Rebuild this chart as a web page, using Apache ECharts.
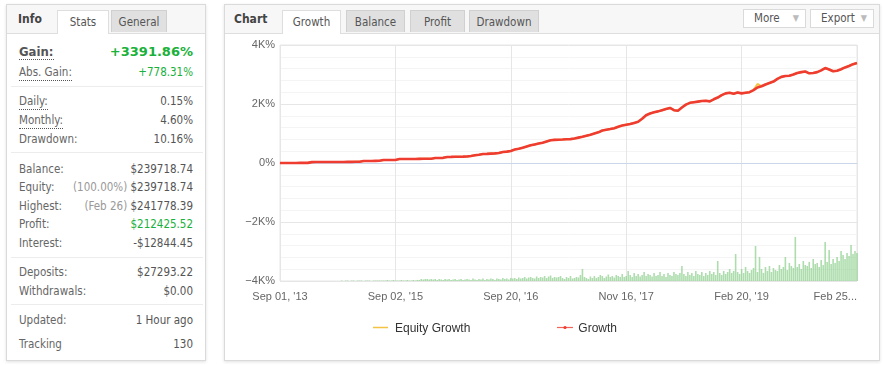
<!DOCTYPE html>
<html><head><meta charset="utf-8">
<script src="https://cdn.jsdelivr.net/npm/echarts@6/dist/echarts.min.js"></script>
<style>
html,body{margin:0;padding:0;background:#fff;width:885px;height:365px;overflow:hidden;font-family:"DejaVu Sans Condensed","Liberation Sans",sans-serif;}
.panel{position:absolute;background:#fff;border:1px solid #dadada;box-shadow:0 1px 3px rgba(0,0,0,0.12);box-sizing:border-box;}
.hdr{position:absolute;left:0;right:0;top:0;height:28px;background:#f7f7f7;border-bottom:1px solid #dedede;}
.ttl{position:absolute;top:7px;font:bold 12px "DejaVu Sans Condensed","DejaVu Sans",sans-serif;color:#444;}
.tab{position:absolute;top:5px;height:22px;box-sizing:border-box;border:1px solid #d0d0d0;border-bottom:none;background:#e0e0e0;color:#555;font-size:11.5px;line-height:22px;text-align:center;}
.tab.on{background:#fff;height:24px;border-color:#dedede;}
.btn{position:absolute;top:4px;height:19px;box-sizing:border-box;border:1px solid #dadada;background:#fff;color:#555;font-size:11.5px;line-height:17px;padding-left:10px;}
.btn span{position:absolute;right:6px;top:0;color:#bbb;font-size:9px;}
.row{position:absolute;left:12px;right:12px;height:16px;font-size:11.5px;line-height:16px;color:#666;}
.row .l{position:absolute;left:0;}
.row .v{position:absolute;right:0;color:#555;}
.row .u{border-bottom:1px dotted #555;}
.gr{color:#19b13a!important;}
.mut{color:#999;}
.sep{position:absolute;left:4px;right:2px;height:1px;background:#ececec;}
#chart{position:absolute;left:0;top:0;width:885px;height:365px;z-index:2;}
</style></head><body>
<div class="panel" style="left:6px;top:4px;width:200px;height:357px;">
  <div class="hdr"></div>
  <div class="ttl" style="left:11px;">Info</div>
  <div class="tab on" style="left:50px;width:52px;">Stats</div>
  <div class="tab" style="left:104px;width:56px;">General</div>
  <div class="row" style="top:39px;"><span class="l u" style="font:bold 13px 'DejaVu Sans Condensed','DejaVu Sans';color:#555;">Gain:</span><span class="v gr" style="font:bold 13px 'DejaVu Sans';">+3391.86%</span></div>
  <div class="row" style="top:59px;"><span class="l u">Abs. Gain:</span><span class="v gr">+778.31%</span></div>
  <div class="sep" style="top:81px;"></div>
  <div class="row" style="top:88px;"><span class="l u">Daily:</span><span class="v">0.15%</span></div>
  <div class="row" style="top:107px;"><span class="l u">Monthly:</span><span class="v">4.60%</span></div>
  <div class="row" style="top:126px;"><span class="l">Drawdown:</span><span class="v">10.16%</span></div>
  <div class="sep" style="top:147px;"></div>
  <div class="row" style="top:156px;"><span class="l">Balance:</span><span class="v">$239718.74</span></div>
  <div class="row" style="top:174px;"><span class="l">Equity:</span><span class="v"><span class="mut">(100.00%)</span> $239718.74</span></div>
  <div class="row" style="top:193px;"><span class="l">Highest:</span><span class="v"><span class="mut">(Feb 26)</span> $241778.39</span></div>
  <div class="row" style="top:211px;"><span class="l">Profit:</span><span class="v gr">$212425.52</span></div>
  <div class="row" style="top:230px;"><span class="l">Interest:</span><span class="v">-$12844.45</span></div>
  <div class="sep" style="top:252px;"></div>
  <div class="row" style="top:259px;"><span class="l">Deposits:</span><span class="v">$27293.22</span></div>
  <div class="row" style="top:278px;"><span class="l">Withdrawals:</span><span class="v">$0.00</span></div>
  <div class="sep" style="top:299px;"></div>
  <div class="row" style="top:307px;"><span class="l">Updated:</span><span class="v">1 Hour ago</span></div>
  <div class="row" style="top:331px;"><span class="l">Tracking</span><span class="v">130</span></div>
</div>
<div class="panel" style="left:224px;top:4px;width:656px;height:357px;">
  <div class="hdr"></div>
  <div class="ttl" style="left:9px;">Chart</div>
  <div class="tab on" style="left:57px;width:59px;">Growth</div>
  <div class="tab" style="left:121px;width:59px;">Balance</div>
  <div class="tab" style="left:185px;width:55px;">Profit</div>
  <div class="tab" style="left:244px;width:70px;">Drawdown</div>
  <div class="btn" style="left:518px;width:63px;">More<span>▼</span></div>
  <div class="btn" style="left:585px;width:64px;">Export<span>▼</span></div>
</div>
<div id="chart"></div>
<script>
// x tick labels (every 58 steps of the point index)
const xTicks = ["Sep 01, '13", "Sep 02, '15", "Sep 20, '16", "Nov 16, '17", "Feb 20, '19", "Feb 25..."];
const yTicks = {"4000":"4K%","2000":"2K%","0":"0%","-2000":"\u22122K%","-4000":"\u22124K%"};
// Growth % (one value every 2 index steps)
const growth = [
0,0,2,0,2,3,3,5,30,32, 32,33,33,34,35,35,36,37,38,40, 42,68,70,70,72,74,100,102,103,104,
135,136,137,137,138,140,142,143,145,170, 172,175,203,206,210,212,215,220,240,262,
280,305,310,318,325,340,373,385,410,455, 480,520,560,600,630,660,690,730,770,785,
790,795,805,810,830,860,890,925,960,1000, 1040,1100,1125,1150,1180,1230,1270,1295,1320,1360,
1400,1500,1620,1680,1720,1750,1790,1830,1865,1790, 1770,1880,1980,2040,2060,2080,2100,2110,2090,2160,
2220,2300,2360,2380,2350,2390,2360,2380,2400,2470, 2560,2600,2660,2710,2760,2850,2920,2950,2960,3000,
3050,3080,3100,3040,3050,3080,3140,3220,3170,3110, 3130,3180,3240,3290,3350,3392];
// Equity growth % (same sampling)
const equity = [
0,0,2,0,2,3,3,5,30,32, 32,33,33,34,35,35,36,37,38,40, 42,68,70,70,72,74,100,102,103,104,
135,136,137,137,138,140,142,143,145,170, 172,175,203,206,210,212,215,220,240,262,
280,305,310,318,325,340,373,385,410,455, 480,520,560,600,630,660,690,730,770,785,
790,795,805,810,830,860,890,925,960,1000, 1040,1100,1125,1150,1180,1230,1270,1295,1320,1360,
1400,1500,1620,1680,1720,1750,1790,1830,1865,1790, 1770,1880,1980,2040,2060,2080,2100,2110,2090,2160,
2220,2300,2360,2380,2350,2390,2360,2380,2400,2470, 2680,2600,2660,2710,2760,2850,2920,2950,2960,3000,
3050,3080,3100,3040,3050,3080,3140,3220,3170,3110, 3130,3180,3240,3290,3350,3392];
// Activity bars (one per index step, secondary hidden scale)
const activity = [
0,0,0,0,0,0,0,0,0,0, 0,0,0,0,0,0,0,0,0,0, 0,0,0,0,0,0,0,0,0,0,
0,0.5,0,0.5,0.5,0,0.5,0.5,0,0.5, 0.5,0.5,0,0.5,0.5,0.5,0,0.5,0.5,0.5,
0.5,0.5,0.5,0.5,1,0.5,0.5,1,0.5,0.5, 0.5,1,0.5,0.5,1,0.5,0.5,1,0.5,1,
1,2,1.5,2,2,1.5,2,1.5,2,1, 2,1.5,1,2,1.5,2,1,1.5,2,1,
1.5,2,1,1.5,2,1.5,1,2.5,1.5,1, 2,1.5,2.5,1,2,1.5,2.5,2,1,2.5,
2,1.5,3,2,2.5,1.5,3,2.5,3,2, 3.5,2.5,3,4,2.5,3.5,4,3,2.5,4.5,
3,4,3.5,5,3,4.5,5.5,3,4,3.5, 4,5,3,2,4,3,5,2.5,3,4,
3.5,6,12,4,3,2,4.5,3,5,3, 4,6,5,3,4.5,6.5,4,5,3.5,6,
5,4,7,4,5,10,6,4,8,5, 7,4.5,6,9,5,7,6,4.5,8,5,
6,9,5,7,4,8,6,5,9,7, 6,8,15,7,5,9,6,8,5,10,
7,6,9,5,8,6,10,7,9,6, 20,8,6,10,7,9,12,8,10,27,
9,7,12,8,14,10,8,11,13,35, 9,24,12,8,14,10,15,9,13,11,
10,16,12,14,24,11,18,15,13,44, 14,17,12,20,16,15,19,13,22,17,
18,14,21,16,39,19,31,17,22,18, 24,20,30,26,22,28,25,36,27,30,
28];

const TICK_STEP = 58;
const EQ_COLOR = '#f5c344', GR_COLOR = '#ef3c30';
const growthData = growth.map((v, k) => [k * 2, v]);
const equityData = equity.map((v, k) => [k * 2, v]);
const actData = activity.map((v, i) => [i, v]);

const chart = echarts.init(document.getElementById('chart'), null, {renderer: 'canvas'});
const axisFont = {fontFamily: 'Liberation Sans', fontSize: 11, color: '#666'};
chart.setOption({
  animation: false,
  backgroundColor: 'transparent',
  grid: {left: 280, right: 28, top: 45, bottom: 84, show: true, borderColor: '#e6e6e6', borderWidth: 1},
  legend: {
    left: 371, top: 318, itemGap: 89, itemWidth: 16, itemHeight: 10,
    textStyle: {fontFamily: 'Liberation Sans', fontSize: 12, color: '#333', padding: [0, 0, 0, -2]},
    data: [
      {name: 'Equity Growth', icon: 'rect', itemStyle: {opacity: 0}},
      {name: 'Growth', icon: 'rect', itemStyle: {opacity: 0}}
    ]
  },
  graphic: [
    {type: 'line', shape: {x1: 373, y1: 327.5, x2: 388, y2: 327.5}, style: {stroke: EQ_COLOR, lineWidth: 1.5}, silent: true},
    {type: 'line', shape: {x1: 557, y1: 327.5, x2: 573, y2: 327.5}, style: {stroke: GR_COLOR, lineWidth: 1.2, opacity: 0.8}, silent: true},
    {type: 'circle', shape: {cx: 565, cy: 327.5, r: 1.6}, style: {fill: GR_COLOR}, silent: true}
  ],
  xAxis: {
    type: 'value', min: 0, max: 290, interval: TICK_STEP,
    axisLine: {show: true, lineStyle: {color: '#ccd6eb'}},
    axisTick: {show: false},
    splitLine: {show: true, lineStyle: {color: '#e6e6e6'}},
    axisLabel: Object.assign({margin: 10, alignMaxLabel: 'right', formatter: v => xTicks[Math.round(v / TICK_STEP)] || ''}, axisFont)
  },
  yAxis: [{
    type: 'value', min: -4000, max: 4000, interval: 2000,
    axisLine: {show: false}, axisTick: {show: false},
    splitLine: {lineStyle: {color: '#e6e6e6'}},
    minorTick: {show: false, splitNumber: 5},
    minorSplitLine: {show: true, lineStyle: {color: '#f4f4f4'}},
    axisLabel: Object.assign({margin: 5, formatter: v => yTicks[String(v)] || ''}, axisFont)
  }, {
    type: 'value', min: 0, max: 236, show: false,
    splitLine: {show: false}
  }],
  series: [{
    name: 'Activity', type: 'bar', yAxisIndex: 1, data: actData,
    barWidth: 1.6, itemStyle: {color: 'rgba(138,206,138,0.7)'}, silent: true, z: 1
  }, {
    name: 'Equity Growth', type: 'line', data: equityData, symbol: 'none',
    lineStyle: {color: EQ_COLOR, width: 2}, itemStyle: {color: EQ_COLOR}, z: 3
  }, {
    name: 'Growth', type: 'line', data: growthData, symbol: 'circle', symbolSize: 4, showSymbol: false,
    lineStyle: {color: GR_COLOR, width: 2.6}, itemStyle: {color: GR_COLOR}, z: 4
  }]
});
</script>
</body></html>
